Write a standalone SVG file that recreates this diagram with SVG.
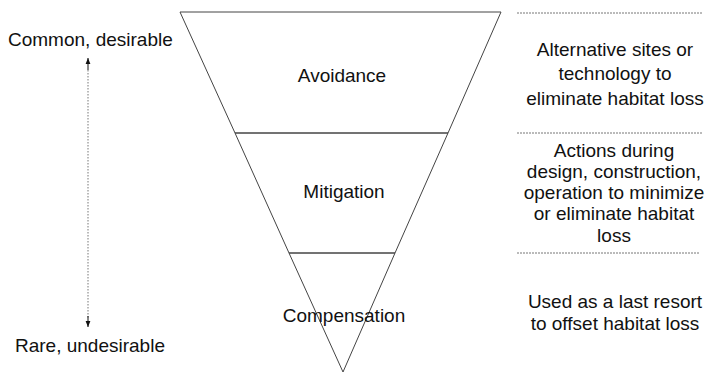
<svg xmlns="http://www.w3.org/2000/svg" width="708" height="373" viewBox="0 0 708 373">
<style>
text{font-family:"Liberation Sans",Arial,sans-serif;font-size:19px;fill:#111}
.c{text-anchor:middle}
.band{fill:none;stroke:#444;stroke-width:1}
.rule{stroke:#777;stroke-width:1;stroke-dasharray:2 1}
.axis{stroke:#777;stroke-width:1;stroke-dasharray:1.5 1.5}
</style>
<defs>
<marker id="ah" viewBox="0 0 10 10" refX="10" refY="5" markerWidth="6" markerHeight="10" orient="auto" markerUnits="userSpaceOnUse">
<path d="M0,1 L10,5 L0,9 Z" fill="#111"/>
</marker>
</defs>
<rect width="708" height="373" fill="#fff"/>
<g id="label-common"><text x="8" y="46">Common, desirable</text></g>
<g id="label-rare"><text x="15" y="352">Rare, undesirable</text></g>
<g id="connectors">
<line class="axis" x1="88" y1="70" x2="88" y2="318"/>
<line x1="88" y1="70" x2="88" y2="58" stroke="#111" stroke-width="1" marker-end="url(#ah)"/>
<line x1="88" y1="316" x2="88" y2="327" stroke="#111" stroke-width="1" marker-end="url(#ah)"/>
</g>
<g id="avoidance">
<polygon class="band" points="180,12 501,12 448,133 235,133"/>
<text class="c" x="342" y="82">Avoidance</text>
</g>
<g id="mitigation">
<polygon class="band" points="235,133 448,133 395,253 289,253"/>
<text class="c" x="344" y="198">Mitigation</text>
</g>
<g id="compensation">
<polygon class="band" points="289,253 395,253 343,372"/>
<text class="c" x="344" y="322">Compensation</text>
</g>
<g id="desc-avoidance">
<line class="rule" x1="517" y1="13" x2="702" y2="13"/>
<text class="c" x="615" y="56">Alternative sites or</text>
<text class="c" x="615" y="80">technology to</text>
<text class="c" x="615" y="105">eliminate habitat loss</text>
</g>
<g id="desc-mitigation">
<line class="rule" x1="517" y1="133" x2="702" y2="133"/>
<text class="c" x="614" y="157">Actions during</text>
<text class="c" x="614" y="178">design, construction,</text>
<text class="c" x="614" y="199">operation to minimize</text>
<text class="c" x="614" y="220">or eliminate habitat</text>
<text class="c" x="614" y="242">loss</text>
</g>
<g id="desc-compensation">
<line class="rule" x1="517" y1="253" x2="700" y2="253"/>
<text class="c" x="615" y="308">Used as a last resort</text>
<text class="c" x="615" y="330">to offset habitat loss</text>
</g>
</svg>
